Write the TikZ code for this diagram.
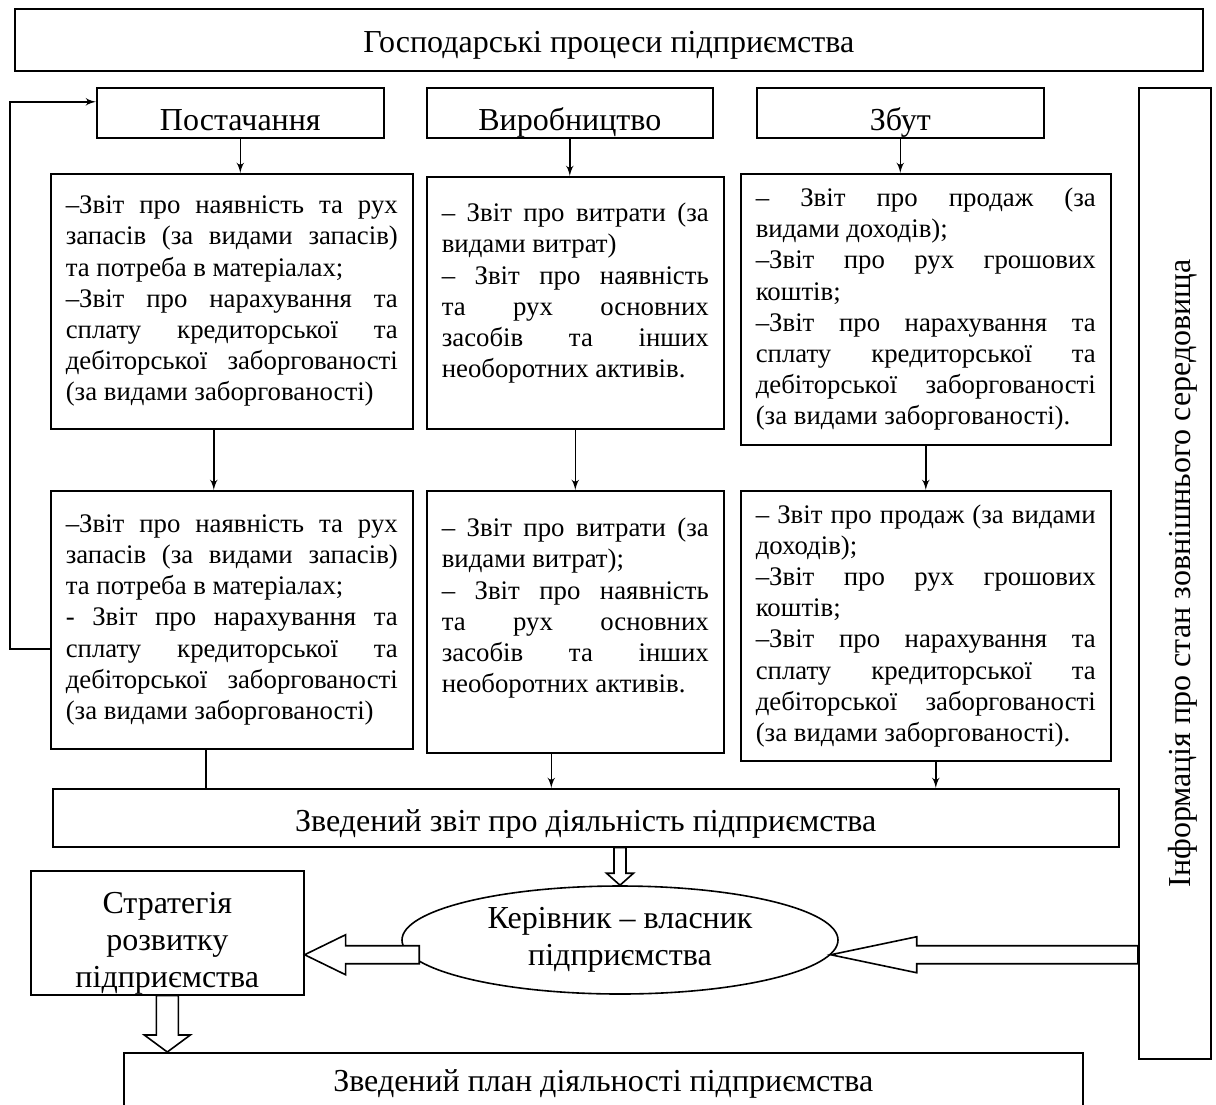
\documentclass[tikz,border=0pt]{standalone}
\usepackage{fontspec}
\setmainfont{Liberation Serif}
\usepackage{tikz}
\usetikzlibrary{arrows,shapes.geometric,calc}
\setlength{\parindent}{0pt}
\hyphenpenalty=10000
\tolerance=10000
\hbadness=10000

\newcommand{\hollowdown}[5]{\draw[hollow] let \p1=(#1), \p2=(#2) in
  (\x2-#3,\y1) -- (\x2-#3,\y2+#5) -- (\x2-#4,\y2+#5) -- (\x2,\y2)
  -- (\x2+#4,\y2+#5) -- (\x2+#3,\y2+#5) -- (\x2+#3,\y1) -- cycle;}
\newcommand{\hollowleft}[5]{\draw[hollow] let \p1=(#1), \p2=(#2) in
  (\x1,\y2+#3) -- (\x2+#5,\y2+#3) -- (\x2+#5,\y2+#4) -- (\x2,\y2)
  -- (\x2+#5,\y2-#4) -- (\x2+#5,\y2-#3) -- (\x1,\y2-#3) -- cycle;}

\begin{document}
\begin{tikzpicture}[x=0.5pt,y=-0.5pt,>=latex',line width=0.8pt,
    head/.style={draw,anchor=north west,inner sep=0pt,align=center,font=\fontsize{16}{18.5}\selectfont},
    low/.style={text height=#1,text depth=0pt},
    rep/.style={draw,anchor=north west,inner xsep=7.5pt,inner ysep=0pt,align=justify,font=\fontsize{13.4}{15.6}\selectfont},
    hollow/.style={draw,fill=white}]
  \useasboundingbox (0,0) rectangle (1216,1104);
  \clip (0,0) rectangle (1216,1104);
  \node[head,low=13pt,minimum width=594pt,minimum height=31pt] (proc) at (14,8) {Господарські процеси підприємства};
  \node[head,low=18pt,minimum width=143.5pt,minimum height=25pt] (post) at (96,87) {Постачання};
  \node[head,low=18pt,minimum width=143pt,minimum height=25pt] (vyr) at (426,87) {Виробництво};
  \node[head,low=18pt,minimum width=143.5pt,minimum height=25pt] (zbut) at (756,87) {Збут};
  \node[head,minimum width=36pt,minimum height=485.5pt] (info) at (1138,87) {\hspace*{8pt}\rotatebox{90}{Інформація про стан зовнішнього середовища}};
  \node[rep,text width=166pt,minimum height=127.5pt] (post1) at (50,173) {–Звіт про наявність та рух\linebreak запасів (за видами запасів)\linebreak та потреба в матеріалах;\par
    –Звіт про нарахування та\linebreak сплату кредиторської та\linebreak дебіторської заборгованості\linebreak (за видами заборгованості)};
  \node[rep,text width=133.5pt,minimum height=126pt] (vyr1) at (426,176) {– Звіт про витрати (за\linebreak видами витрат)\par
    – Звіт про наявність\linebreak та рух основних\linebreak засобів та інших\linebreak необоротних активів.\rule[-12.5pt]{0pt}{0pt}};
  \node[rep,text width=170pt,minimum height=135.5pt] (zbut1) at (740,173) {– Звіт про продаж (за\linebreak видами доходів);\par
    –Звіт про рух грошових\linebreak коштів;\par
    –Звіт про нарахування та\linebreak сплату кредиторської та\linebreak дебіторської заборгованості\linebreak (за видами заборгованості).};
  \node[rep,text width=166pt,minimum height=129pt] (post2) at (50,490) {–Звіт про наявність та рух\linebreak запасів (за видами запасів)\linebreak та потреба в матеріалах;\par
    - Звіт про нарахування та\linebreak сплату кредиторської та\linebreak дебіторської заборгованості\linebreak (за видами заборгованості)};
  \node[rep,text width=133.5pt,minimum height=131pt] (vyr2) at (426,490) {– Звіт про витрати (за\linebreak видами витрат);\par
    – Звіт про наявність\linebreak та рух основних\linebreak засобів та інших\linebreak необоротних активів.\rule[-16.5pt]{0pt}{0pt}};
  \node[rep,text width=170pt,minimum height=135pt] (zbut2) at (740,490) {– Звіт про продаж (за видами\linebreak доходів);\par
    –Звіт про рух грошових\linebreak коштів;\par
    –Звіт про нарахування та\linebreak сплату кредиторської та\linebreak дебіторської заборгованості\linebreak (за видами заборгованості).};
  \node[head,low=14pt,minimum width=533pt,minimum height=29pt] (zved) at (52,788) {Зведений звіт про діяльність підприємства};
  \node[head,minimum width=136.5pt,minimum height=62pt] (strat) at (30,870) {\rule{0pt}{21pt}Стратегія\\розвитку\\підприємства};
  \node[draw,ellipse,fill=white,inner sep=0pt,minimum width=218pt,minimum height=54pt,align=center,font=\fontsize{16}{18.5}\selectfont] (kerivn) at (620,940) {Керівник – власник\\підприємства};
  \node[head,minimum width=479.5pt,minimum height=31pt] (plan) at (123,1052) {Зведений план діяльності підприємства};

  \draw[->] (post.south) -- (post.south |- post1.north);
  \draw[->] (vyr.south) -- (vyr.south |- vyr1.north);
  \draw[->] (zbut.south) -- (zbut.south |- zbut1.north);
  \draw[->] ([xshift=-9pt]post1.south) -- ([xshift=-9pt]post1.south |- post2.north);
  \draw[->] (vyr1.south) -- (vyr1.south |- vyr2.north);
  \draw[->] (zbut1.south) -- (zbut1.south |- zbut2.north);
  \draw ([xshift=-13pt]post2.south) -- ([xshift=-13pt]post2.south |- zved.north);
  \draw[->] ([xshift=-12pt]vyr2.south) -- ([xshift=-12pt]vyr2.south |- zved.north);
  \draw[->] ([xshift=5pt]zbut2.south) -- ([xshift=5pt]zbut2.south |- zved.north);
  \draw[->] ([yshift=-14.5pt]post2.west) -- ++(-40,0) |- ([yshift=5.5pt]post.west);

  \hollowdown{zved.south -| kerivn.north}{kerivn.north}{3pt}{6.75pt}{6pt}
  \hollowleft{[xshift=5pt]kerivn.184}{kerivn.184 -| strat.east}{4.5pt}{10pt}{20.5pt}
  \hollowleft{kerivn.-4 -| info.west}{kerivn.-4}{4.5pt}{9pt}{43pt}
  \hollowdown{strat.south}{strat.south |- plan.north}{5.5pt}{11.5pt}{8.5pt}
\end{tikzpicture}
\end{document}
